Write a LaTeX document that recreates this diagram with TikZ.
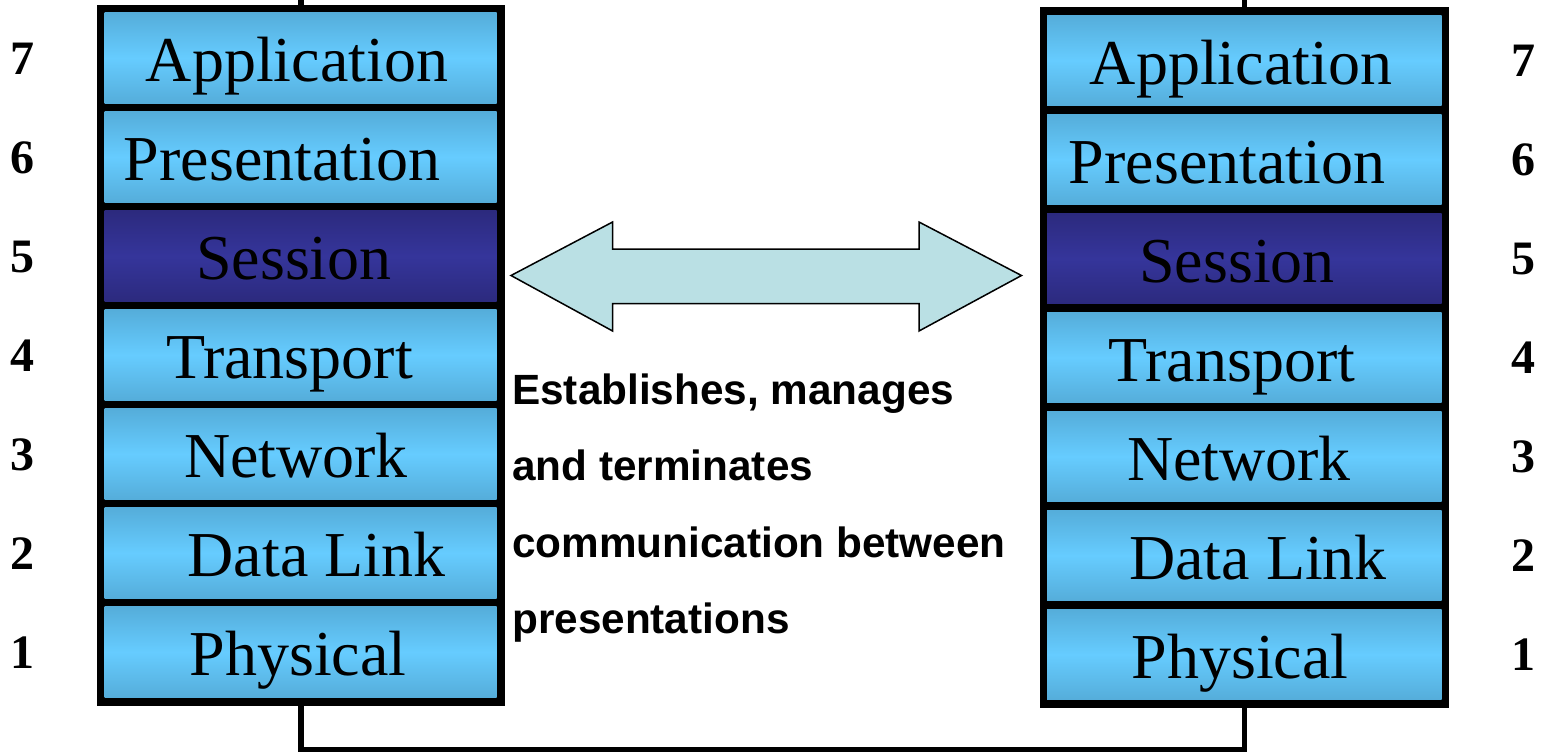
\documentclass[tikz,border=0pt]{standalone}
\usepackage{fontspec}
\setmainfont{Liberation Serif}
\newfontfamily\notefont{Liberation Sans}
\definecolor{layeredge}{HTML}{55ADDA}
\definecolor{layermid}{HTML}{66CCFF}
\definecolor{sessedge}{HTML}{2C2A7E}
\definecolor{sessmid}{HTML}{35359B}
\definecolor{arrowfill}{HTML}{BAE0E4}
\tikzset{
  stackframe/.style={fill=black, draw=none, inner sep=0pt, anchor=north west},
  layerbox/.style={draw=none, inner sep=0pt, anchor=north west,
    minimum height=90.5pt, top color=layeredge, bottom color=layeredge, middle color=layermid},
  sessionbox/.style={layerbox, top color=sessedge, bottom color=sessedge, middle color=sessmid},
  layertext/.style={font=\fontsize{64}{70}\selectfont, inner sep=0pt, anchor=base},
  numtext/.style={font=\fontsize{48}{52}\selectfont\bfseries, inner sep=0pt, anchor=base},
  notetext/.style={font=\notefont\bfseries\fontsize{42.3}{48}\selectfont, inner sep=0pt, anchor=base west},
  wire/.style={line width=5.5pt, line join=miter, line cap=butt},
  bigarrow/.style={fill=arrowfill, draw=black, line width=1.5pt, line join=miter},
}
\begin{document}
\begin{tikzpicture}[x=1pt, y=-1pt]
\useasboundingbox (0,0) rectangle (1547,753);

% links between the two stacks
\coordinate (topedge) at (0,-5);
\coordinate (bottomrun) at (0,749.5);

% stack frames
\node[stackframe, minimum width=408pt, minimum height=701pt] (lframe) at (97,5) {};
\node[stackframe, minimum width=409pt, minimum height=701pt] (rframe) at (1040,7) {};

\draw[wire] (lframe.north) -- (lframe.north |- topedge);
\draw[wire] (rframe.north) -- (rframe.north |- topedge);
\draw[wire] (lframe.south) -- (lframe.south |- bottomrun)
  -- (rframe.south |- bottomrun) -- (rframe.south);

% the seven layers on each side
\foreach \n/\name/\xl/\xr [count=\i from 0] in
  {7/Application/297/1241, 6/Presentation/282/1227, 5/Session/294/1237,
   4/Transport/289.5/1232, 3/Network/296/1239, 2/Data Link/316.6/1258,
   1/Physical/298/1240} {
  \pgfmathsetmacro\ltop{12.6+99*\i}
  \pgfmathsetmacro\rtop{15+99*\i}
  \pgfmathsetmacro\lbase{\ltop+69}
  \pgfmathsetmacro\rbase{\rtop+69}
  \ifnum\n=5
    \node[sessionbox, minimum width=392pt] (L\n) at (104.5,\ltop) {};
    \node[sessionbox, minimum width=394.5pt] (R\n) at (1047,\rtop) {};
  \else
    \node[layerbox, minimum width=392pt] (L\n) at (104.5,\ltop) {};
    \node[layerbox, minimum width=394.5pt] (R\n) at (1047,\rtop) {};
  \fi
  \node[layertext] (Lt\n) at (\xl,\lbase) {\name};
  \node[layertext] (Rt\n) at (\xr,\rbase) {\name};
  \node[numtext] (Ln\n) at (22,\lbase-7.5) {\n};
  \node[numtext] (Rn\n) at (1523,\rbase-7.5) {\n};
}

% double arrow between the session layers
\draw[bigarrow] (511,275.5) -- (612.6,222) -- (612.6,249) -- (919,249)
  -- (919,222) -- (1021.5,275.5) -- (919,331) -- (919,303.5)
  -- (612.6,303.5) -- (612.6,331) -- cycle;

% description
\node[notetext] (note1) at (512,404) {Establishes, manages};
\node[notetext] (note2) at (512,480.5) {and terminates};
\node[notetext] (note3) at (512,557) {communication between};
\node[notetext] (note4) at (512,633.5) {presentations};
\end{tikzpicture}
\end{document}
